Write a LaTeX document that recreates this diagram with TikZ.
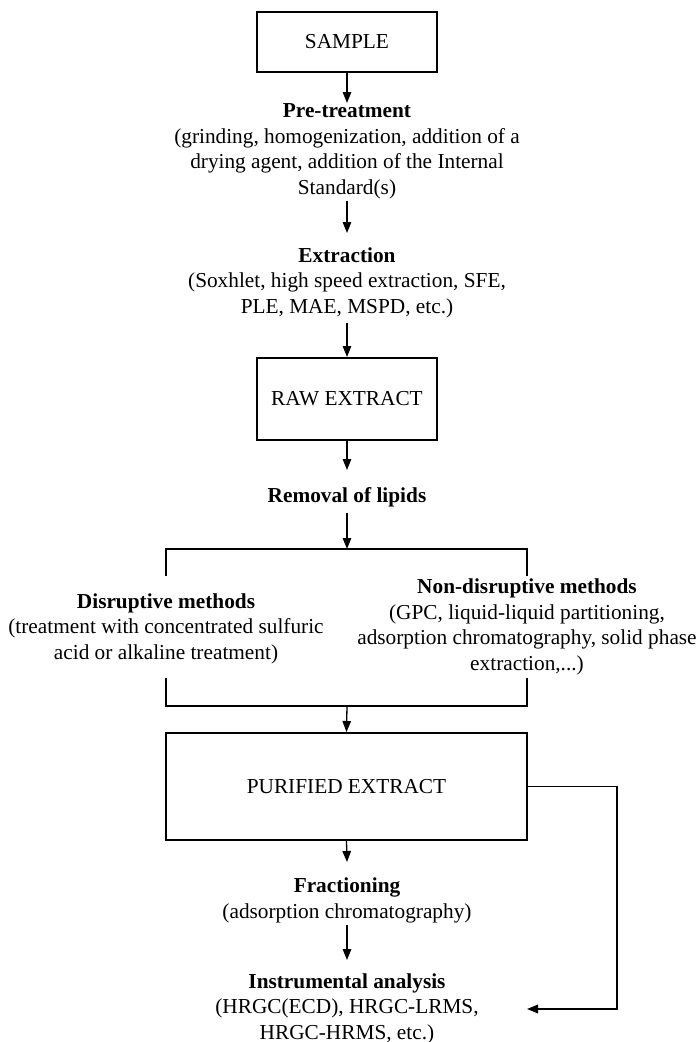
\documentclass[tikz,border=0pt]{standalone}
\usepackage{fontspec}
\setmainfont{Liberation Serif}
\usetikzlibrary{arrows.meta}
\tikzset{
  every node/.style={font=\fontsize{21.3}{25.5}\selectfont, inner sep=0pt, align=center},
  bigbox/.style={draw, line width=2pt, minimum width=180pt, minimum height=60pt},
  arr/.style={line width=1.3pt, -{Triangle[length=11pt,width=8.5pt]}},
  brk/.style={line width=2pt},
  lbl/.style={anchor=base}
}
\begin{document}
\begin{tikzpicture}[x=1pt,y=-1pt]
\useasboundingbox (0,0) rectangle (700,1042);
% boxes
\node[bigbox] (sample) at (347,42) {SAMPLE};
\node[bigbox, minimum height=82pt] (raw) at (347,399) {RAW EXTRACT};
\node[draw, line width=2pt, minimum width=361pt, minimum height=107pt] (pur) at (346.5,786.5) {PURIFIED EXTRACT};
% text nodes (base anchor = baseline of the last line)
\node[lbl] (pre) at (347,194) {\textbf{Pre-treatment}\\(grinding, homogenization, addition of a\\drying agent, addition of the Internal\\Standard(s)};
\node[lbl] (ext) at (347,313) {\textbf{Extraction}\\(Soxhlet, high speed extraction, SFE,\\PLE, MAE, MSPD, etc.)};
\node[lbl] (rem) at (347,502) {\textbf{Removal of lipids}};
\node[lbl] (dis) at (166,659) {\textbf{Disruptive methods}\\(treatment with concentrated sulfuric\\acid or alkaline treatment)};
\node[lbl] (non) at (527,670) {\textbf{Non-disruptive methods}\\(GPC, liquid-liquid partitioning,\\adsorption chromatography, solid phase\\extraction,...)};
\node[lbl] (frac) at (347,918) {\textbf{Fractioning}\\(adsorption chromatography)};
\node[lbl] (inst) at (347,1039) {\textbf{Instrumental analysis}\\(HRGC(ECD), HRGC-LRMS,\\HRGC-HRMS, etc.)};
% coordinates
\coordinate (btop) at (347,549);
\coordinate (tl) at (166,549);
\coordinate (tr) at (527,549);
\coordinate (tld) at (166,576);
\coordinate (trd) at (527,576);
\coordinate (bbot) at (347,706);
\coordinate (bl) at (166,706);
\coordinate (br) at (527,706);
\coordinate (blu) at (166,678);
\coordinate (bru) at (527,678);
\coordinate (rt) at (617,0);
\coordinate (ia) at (527,1009);
% connectors
\draw[arr] (sample.south) -- (347,103);
\draw[arr] (347,201) -- (347,233);
\draw[arr] (347,323) -- (raw.north);
\draw[arr] (raw.south) -- (347,470);
\draw[arr] (347,513) -- (btop);
\draw[brk] (tld) -- (tl) -- (tr) -- (trd);
\draw[brk] (blu) -- (bl) -- (br) -- (bru);
\draw[arr] (bbot) -- (pur.north);
\draw[arr] (pur.south) -- (347,862);
\draw[arr] (347,925) -- (347,960);
\draw[arr, line width=1.8pt] (pur.east) -- (pur.east -| rt) -- (rt |- ia) -- (ia);
\end{tikzpicture}
\end{document}
